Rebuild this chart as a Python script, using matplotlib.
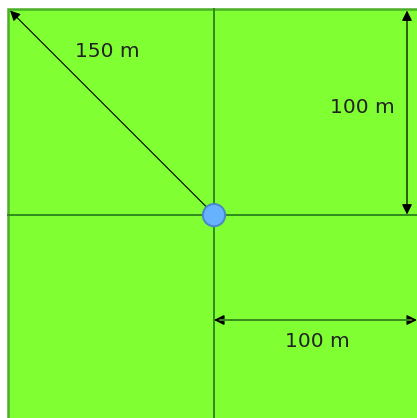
import matplotlib.pyplot as plt
from matplotlib.patches import Rectangle, Circle

# field geometry in metres, centre of the field at (0, 0)
half_side = 100
diag_len = 150
labels = ["150 m", "100 m", "100 m"]

px_per_m = 2.06
cx, cy = 214, 214.5  # centre of the field in pixels

fig = plt.figure(figsize=(4.17, 4.18), dpi=100)
ax = fig.add_axes([0, 0, 1, 1])
ax.set_xlim(-cx / px_per_m, (417 - cx) / px_per_m)
ax.set_ylim(-(418 - cy) / px_per_m, cy / px_per_m)
ax.axis('off')

ax.add_patch(Rectangle((-half_side, -half_side), 2 * half_side, 2 * half_side,
                       facecolor='#80FF33', edgecolor='#4CAF28', lw=1.8, zorder=1))
ax.plot([0, 0], [-half_side, half_side], color='#2F8A1C', lw=1.4, zorder=2)
ax.plot([-half_side, half_side], [0, 0], color='#2F8A1C', lw=1.4, zorder=2)

# diagonal to the corner
ax.annotate('', xy=(-half_side + 1, half_side - 1), xytext=(0, 0),
            arrowprops=dict(arrowstyle='-|>', color='black', lw=0.8,
                            mutation_scale=15, shrinkA=0, shrinkB=0), zorder=3)
ax.text(-52, 79, labels[0], fontsize=14.5, color='#222222', ha='center', va='center')

# vertical dimension
xv = (407 - cx) / px_per_m
ax.annotate('', xy=(xv, half_side - 1), xytext=(xv, 0),
            arrowprops=dict(arrowstyle='<|-|>', color='black', lw=0.9,
                            mutation_scale=15, shrinkA=0, shrinkB=0), zorder=3)
ax.text(72, 52, labels[1], fontsize=14.5, color='#222222', ha='center', va='center')

# horizontal dimension
yh = -(320 - cy) / px_per_m
ax.annotate('', xy=(0, yh), xytext=((417 - cx) / px_per_m, yh),
            arrowprops=dict(arrowstyle='<|-|>', color='black', lw=1.0,
                            mutation_scale=15, shrinkA=0, shrinkB=0), zorder=3)
ax.plot([3, (417 - cx) / px_per_m - 3], [yh, yh], color='#3F9422', lw=1.3, zorder=4)
ax.text(50, -61.5, labels[2], fontsize=14.5, color='#222222', ha='center', va='center')

ax.add_patch(Circle((0, -0.3), 5.4, facecolor='#66B2FF', edgecolor='#4A86C8', lw=1.4, zorder=5))

fig.savefig('out.png', dpi=100)
